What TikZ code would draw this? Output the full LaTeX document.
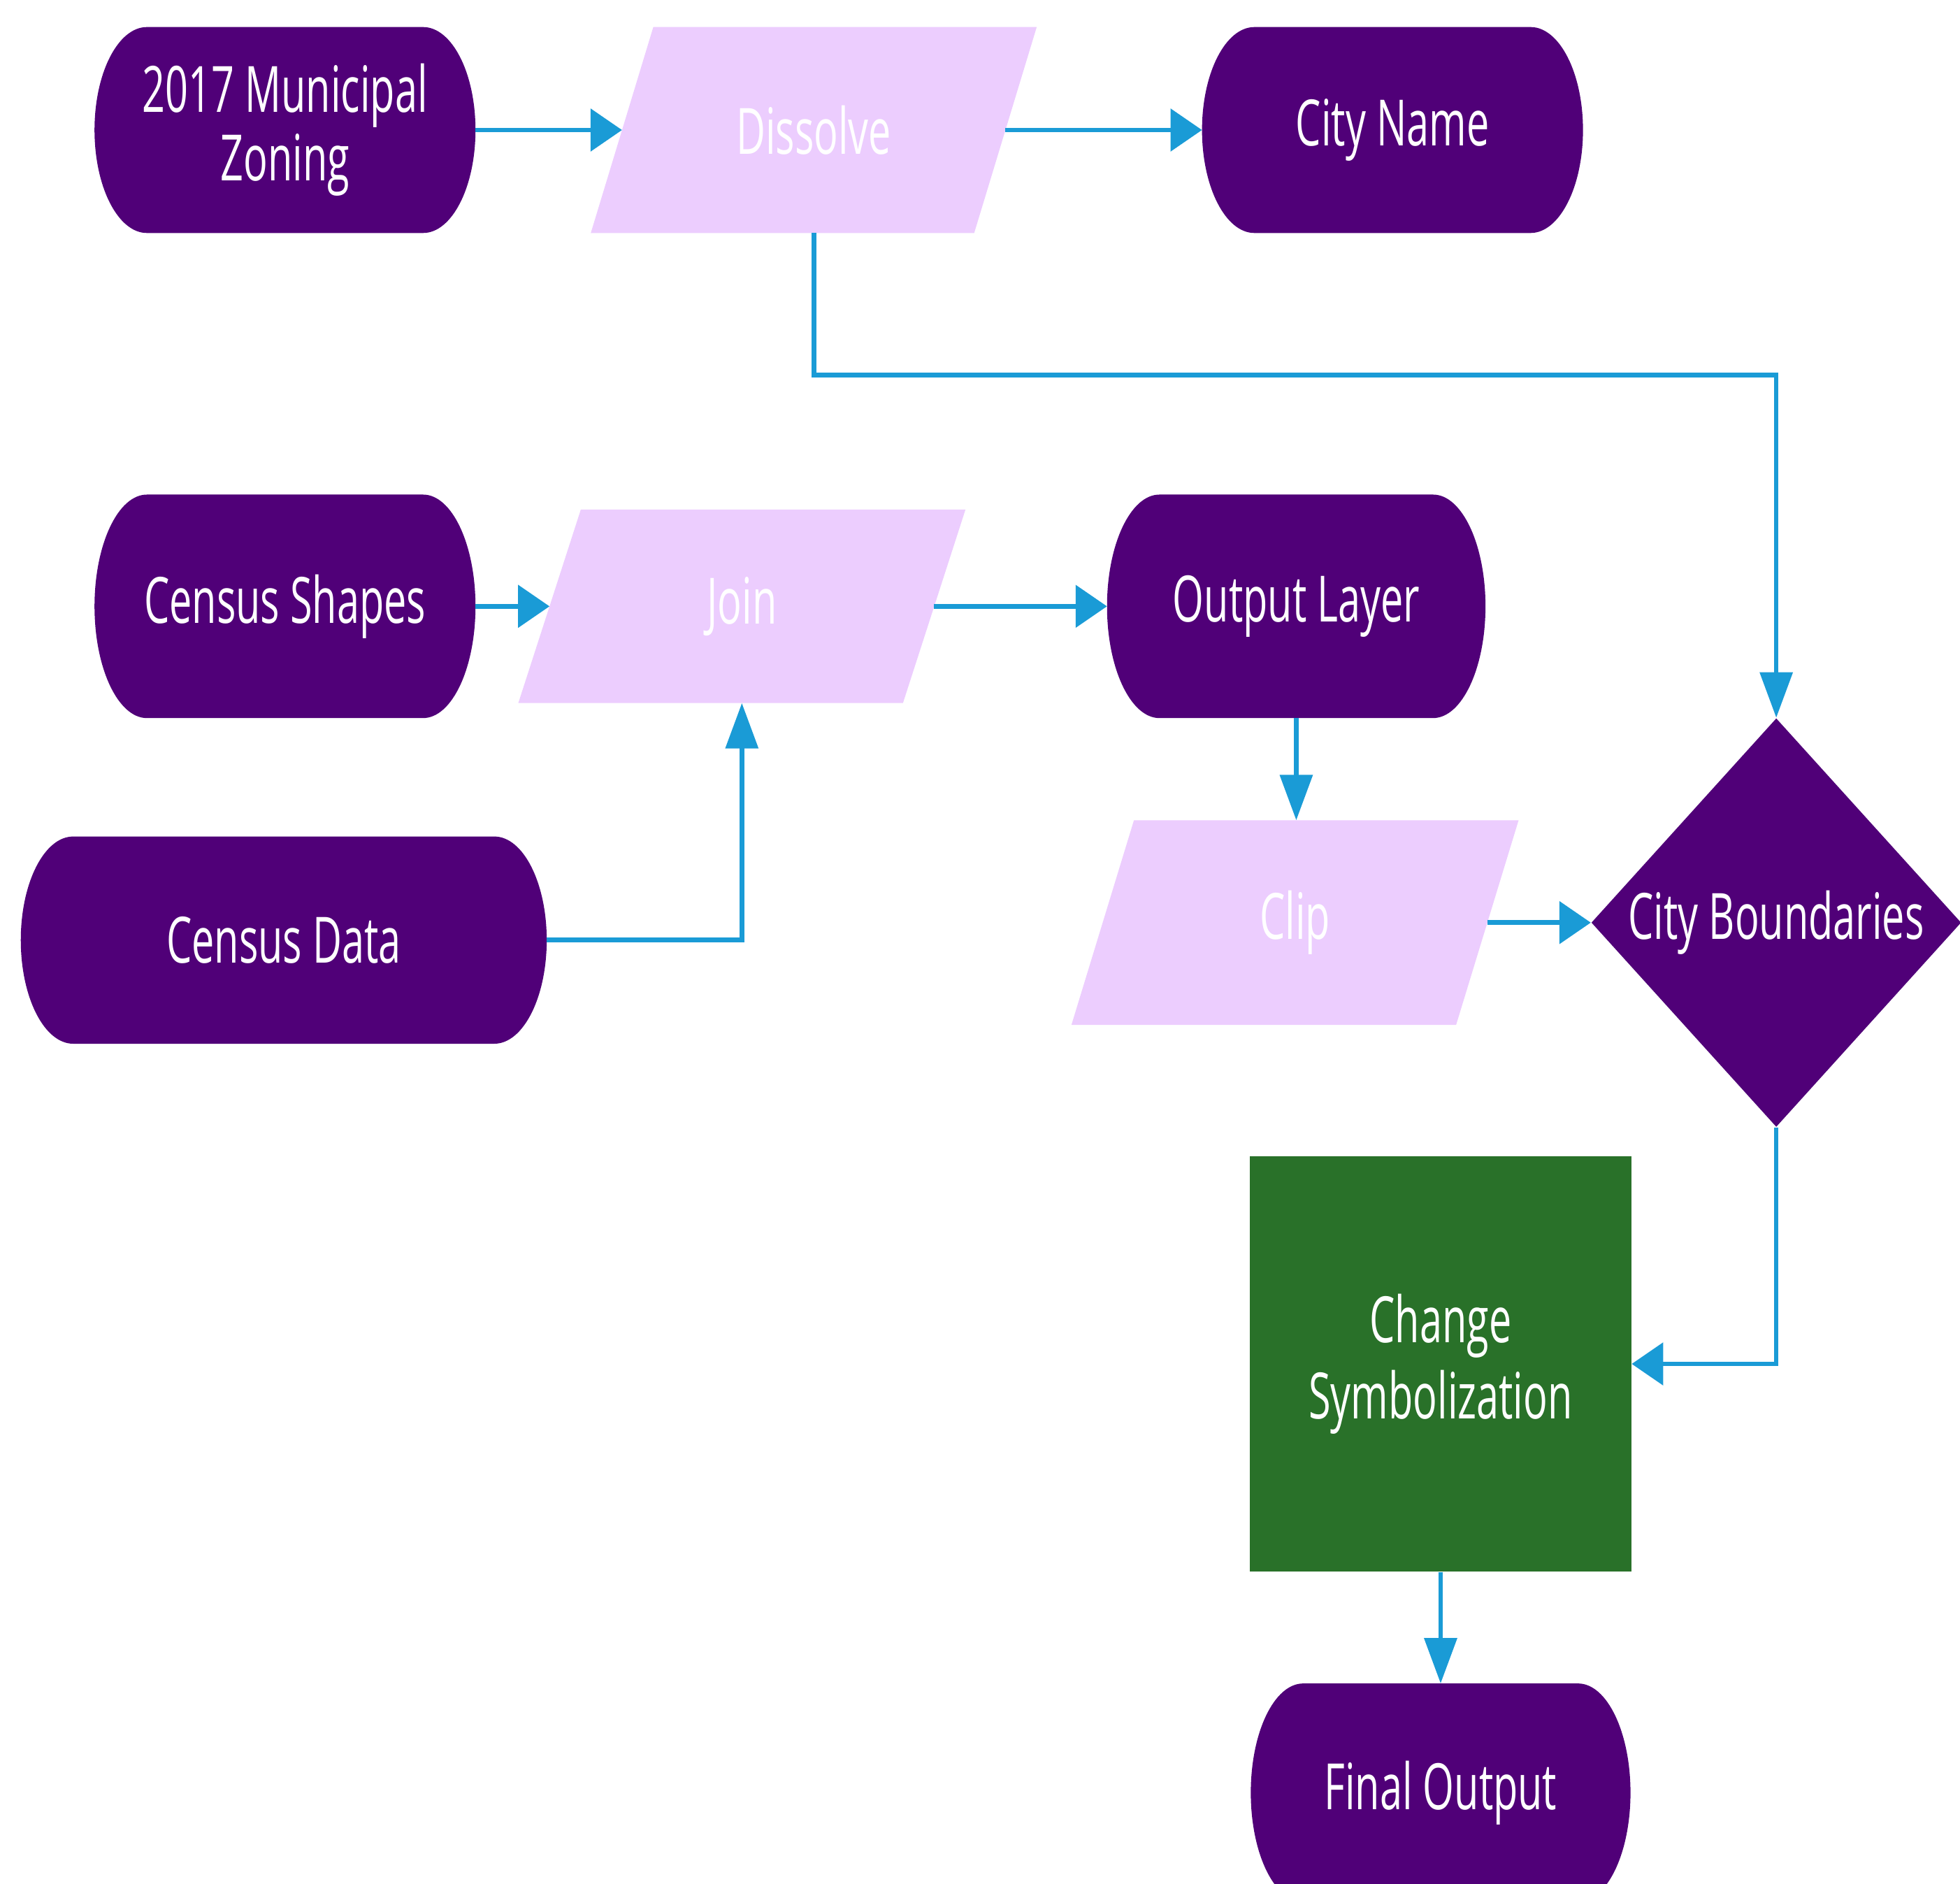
\documentclass[tikz,border=0pt]{standalone}
\usepackage{fontspec}
\setmainfont{Open Sans}[FakeStretch=0.63]
\usetikzlibrary{shapes.geometric,arrows.meta,calc,backgrounds}
\definecolor{dpurple}{HTML}{500078}
\definecolor{lpurple}{HTML}{ECCDFE}
\definecolor{dgreen}{HTML}{297129}
\definecolor{lblue}{HTML}{1A9BD6}
\newcommand\stadium[1]{%
 \fill[dpurple] let \p1=(#1.north west), \p2=(#1.south east), \n1={0.5*(\y1-\y2)} in
 (\x1+0.75cm,\y1) -- (\x2-0.75cm,\y1)
 arc[start angle=90,end angle=-90,x radius=0.75cm,y radius=\n1]
 -- (\x1+0.75cm,\y2)
 arc[start angle=270,end angle=90,x radius=0.75cm,y radius=\n1] -- cycle;}
\newcommand\parafill[1]{%
 \fill[lpurple] ($(#1.north west)+(25,0)$) -- ($(#1.north east)+(25,0)$)
 -- ($(#1.south east)+(-25,0)$) -- ($(#1.south west)+(-25,0)$) -- cycle;}
\begin{document}
\begin{tikzpicture}[x=0.01788cm,y=0.01788cm,
  txt/.style={text=white, font=\fontsize{26}{28}\selectfont, align=center, inner sep=0pt},
  conn/.style={draw=lblue, line width=1.9pt},
  ha/.style={conn, -{Triangle[length=0.45cm,width=0.6cm]}},
  va/.style={conn, -{Triangle[length=0.65cm,width=0.46cm]}}]
\useasboundingbox (0,0) rectangle (1568,-1507);
\node[txt, minimum width=5.436cm, minimum height=2.932cm] (zon) at (228,-104) {2017 Municipal\\Zoning};
\node[txt, minimum width=5.471cm, minimum height=2.932cm] (dis) at (651,-104) {Dissolve};
\node[txt, minimum width=5.436cm, minimum height=2.932cm] (city) at (1114,-104) {City Name};
\node[txt, minimum width=5.436cm, minimum height=3.183cm] (cs) at (228,-485) {Census Shapes};
\node[txt, minimum width=5.489cm, minimum height=2.754cm] (join) at (593.5,-485) {Join};
\node[txt, minimum width=5.400cm, minimum height=3.183cm] (out) at (1037,-485) {Output Layer};
\node[txt, minimum width=7.510cm, minimum height=2.950cm] (cd) at (227,-752) {Census Data};
\node[txt, minimum width=5.489cm, minimum height=2.914cm] (clip) at (1036,-738) {Clip};
\node[txt, diamond, fill=dpurple, minimum width=5.292cm, minimum height=5.847cm] (cb) at (1421,-738) {City Boundaries};
\node[txt, fill=dgreen, minimum width=5.453cm, minimum height=5.936cm, font=\fontsize{26}{31}\selectfont] (chg) at (1152.5,-1091) {Change\\Symbolization};
\node[txt, minimum width=5.418cm, minimum height=3.111cm] (fin) at (1152.5,-1434) {Final Output};
\begin{scope}[on background layer]
\stadium{zon}
\stadium{city}
\stadium{cs}
\stadium{out}
\stadium{cd}
\stadium{fin}
\parafill{dis}
\parafill{join}
\parafill{clip}
\end{scope}
\coordinate (t1) at (1421,-300);
\draw[ha] (zon.east) -- (dis.west);
\draw[ha] (dis.east) -- (city.west);
\draw[va] (dis.south) |- (t1) -- (cb.north);
\draw[ha] (cs.east) -- (join.west);
\draw[ha] (join.east) -- (out.west);
\draw[va] (cd.east) -| (join.south);
\draw[va] (out.south) -- (out.south |- clip.north);
\draw[ha] (clip.east) -- (cb.west);
\draw[ha] (cb.south) |- (chg.east);
\draw[va] (chg.south) -- (fin.north);
\end{tikzpicture}
\end{document}
